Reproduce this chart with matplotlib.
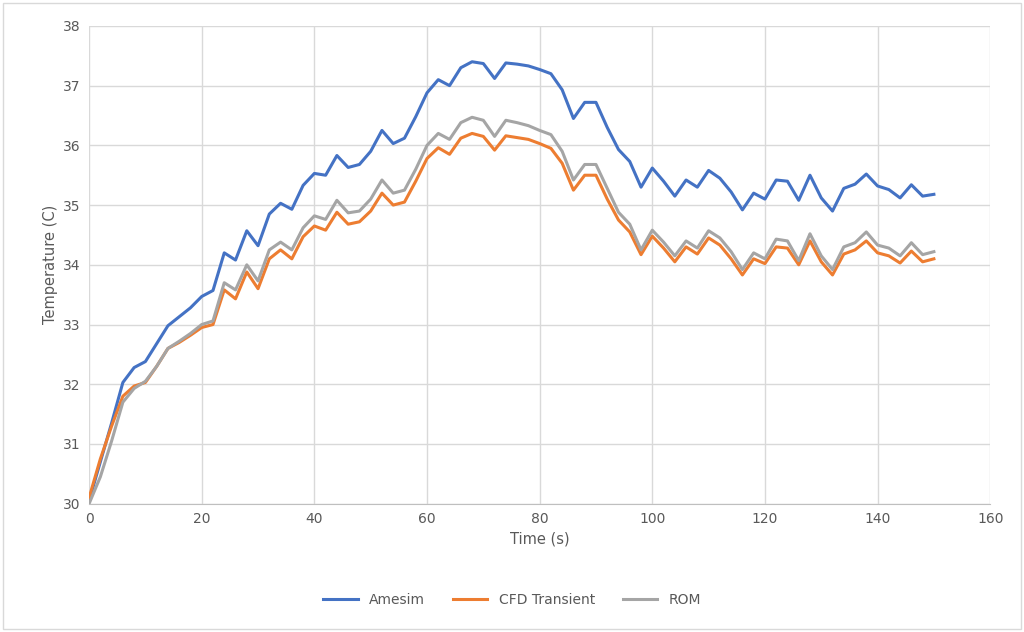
import matplotlib
matplotlib.use("Agg")
import matplotlib.pyplot as plt
import numpy as np

time = list(range(0, 151, 2))
amesim = [30.05,30.7,31.35,32.03,32.28,32.38,32.68,32.98,33.13,33.28,33.47,33.57,34.2,34.08,34.57,34.32,34.85,35.03,34.93,35.33,35.53,35.5,35.83,35.63,35.68,35.9,36.25,36.03,36.12,36.48,36.88,37.1,37.0,37.3,37.4,37.37,37.12,37.38,37.36,37.33,37.27,37.2,36.93,36.45,36.72,36.72,36.3,35.93,35.73,35.3,35.62,35.4,35.15,35.42,35.3,35.58,35.45,35.22,34.92,35.2,35.1,35.42,35.4,35.08,35.5,35.12,34.9,35.28,35.35,35.52,35.32,35.26,35.12,35.34,35.15,35.18]
cfd = [30.1,30.75,31.3,31.8,31.97,32.03,32.3,32.6,32.7,32.82,32.95,33.0,33.58,33.43,33.88,33.6,34.1,34.25,34.1,34.47,34.65,34.58,34.88,34.68,34.72,34.9,35.2,35.0,35.05,35.4,35.78,35.96,35.85,36.12,36.2,36.15,35.92,36.16,36.13,36.1,36.03,35.95,35.7,35.25,35.5,35.5,35.1,34.75,34.55,34.17,34.48,34.28,34.05,34.3,34.18,34.45,34.33,34.1,33.83,34.1,34.02,34.3,34.28,34.0,34.4,34.05,33.83,34.18,34.25,34.4,34.2,34.15,34.03,34.23,34.05,34.1]
rom = [30.0,30.45,31.05,31.7,31.93,32.05,32.3,32.6,32.72,32.85,33.0,33.06,33.7,33.58,34.0,33.73,34.25,34.38,34.25,34.62,34.82,34.76,35.08,34.87,34.9,35.1,35.42,35.2,35.25,35.6,36.0,36.2,36.1,36.38,36.47,36.42,36.15,36.42,36.38,36.33,36.25,36.18,35.9,35.42,35.68,35.68,35.28,34.88,34.68,34.25,34.58,34.38,34.15,34.4,34.28,34.57,34.45,34.22,33.92,34.2,34.1,34.43,34.4,34.07,34.52,34.15,33.92,34.3,34.37,34.55,34.33,34.28,34.15,34.37,34.17,34.22]

plt.rcParams["font.family"] = "DejaVu Sans"
fig = plt.figure(figsize=(10.24, 6.32), dpi=100)
ax = fig.add_axes([0.087, 0.203, 0.880, 0.756])
ax.plot(time, amesim, color="#4472C4", lw=2.2, label="Amesim")
ax.plot(time, cfd, color="#ED7D31", lw=2.2, label="CFD Transient")
ax.plot(time, rom, color="#A5A5A5", lw=2.2, label="ROM")
ax.set_xlim(0, 160)
ax.set_ylim(30, 38)
ax.set_xticks(range(0, 161, 20))
ax.set_yticks(range(30, 39))
ax.grid(True, color="#D9D9D9", lw=1)
ax.set_axisbelow(True)
for s in ["top", "right"]:
    ax.spines[s].set_visible(False)
ax.spines["left"].set_visible(False)
ax.spines["bottom"].set_color("#BFBFBF")
ax.tick_params(length=0, labelsize=10, colors="#595959", pad=6)
ax.set_xlabel("Time (s)", fontsize=10.5, color="#595959")
ax.set_ylabel("Temperature (C)", fontsize=10.5, color="#595959")
fig.legend(loc="center", bbox_to_anchor=(0.5, 0.051), ncol=3, frameon=False,
           fontsize=10, labelcolor="#595959", handlelength=2.5, columnspacing=2)
fig.patches.append(plt.Rectangle((0.003, 0.005), 0.994, 0.99, transform=fig.transFigure,
                                 fill=False, edgecolor="#D9D9D9", lw=1))
fig.savefig("out.png", dpi=100)
